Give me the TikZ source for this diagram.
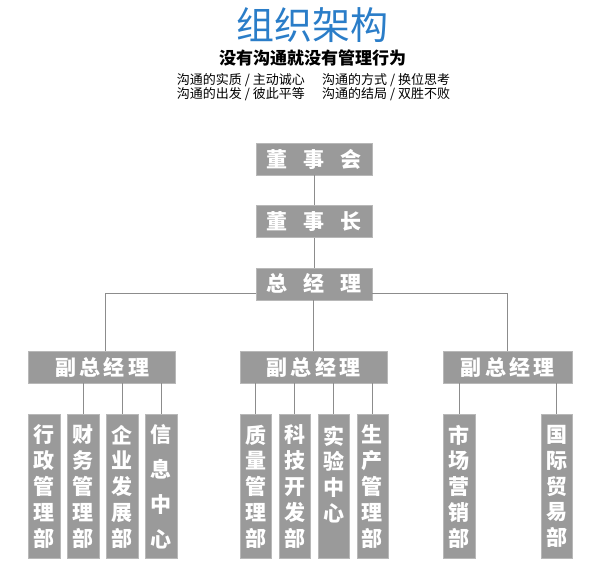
\documentclass[tikz,border=0pt]{standalone}
\usepackage{fontspec}
\usepackage{tikz}
\usetikzlibrary{positioning, calc}
\setmainfont{Noto Sans CJK SC}
\newfontfamily\cjk{Noto Sans CJK SC}
\definecolor{boxgray}{HTML}{9A9A9A}
\definecolor{boxrim}{HTML}{B8B8B8}
\definecolor{linegray}{HTML}{8C8C8C}
\definecolor{titleblue}{HTML}{2A7DC8}
\newcommand{\wide}{\hspace{16pt}}
\newcommand{\narrow}{\hspace{3.3pt}}
\tikzset{%
	head/.style={draw=boxrim, fill=boxgray, text=white, inner sep=0pt,%
		minimum width=116pt, minimum height=32pt, font=\cjk\bfseries\fontsize{21}{21}\selectfont},
	vice/.style={head, minimum width=147pt},
	dept/.style={draw=boxrim, fill=boxgray, text=white, inner sep=0pt, align=center,%
		minimum width=31.5pt, minimum height=144pt, font=\cjk\bfseries\fontsize{21}{25.8}\selectfont},
	link/.style={draw=linegray, line width=0.9pt},
	motto/.style={inner sep=0pt, font=\cjk\fontsize{13}{13}\selectfont}
}
\begin{document}
\begin{tikzpicture}[x=1pt, y=1pt, node distance=30pt and 7pt]
	\useasboundingbox (0,0) rectangle (600,581);
	\node[text=titleblue, font=\cjk\fontsize{38}{38}\selectfont] (title) at (312,556) {组织架构};
	\node[font=\cjk\bfseries\fontsize{17}{17}\selectfont] (slogan) at (312.5,523.5) {没有沟通就没有管理行为};
	\node[motto, anchor=east] (m1) at (305,501) {沟通的实质 / 主动诚心};
	\node[motto, anchor=west] (m2) at (322,501) {沟通的方式 / 换位思考};
	\node[motto, anchor=east] (m3) at (305,487) {沟通的出发 / 彼此平等};
	\node[motto, anchor=west] (m4) at (322,487) {沟通的结局 / 双胜不败};

	\node[head] (dsh) at (314,422) {董\wide 事\wide 会};
	\node[head] (dsz) [below=of dsh] {董\wide 事\wide 长};
	\node[head] (zjl) [below=of dsz] {总\wide 经\wide 理};
	\node[vice, xshift=-0.5pt] (gm2) [below=51pt of zjl] {副\narrow 总\narrow 经\narrow 理};
	\node[vice] (gm1) [left=64pt of gm2] {副\narrow 总\narrow 经\narrow 理};
	\node[vice, minimum width=129pt] (gm3) [right=56pt of gm2] {副\narrow 总\narrow 经\narrow 理};

	\node[dept, below=31pt of gm1.south west, anchor=north west] (xz) {行\\政\\管\\理\\部};
	\node[dept] (cw) [right=of xz] {财\\务\\管\\理\\部};
	\node[dept] (qy) [right=of cw] {企\\业\\发\\展\\部};
	\node[dept] (xx) [right=of qy] {信\\[9pt]息\\[9pt]中\\[9pt]心};
	\node[dept, below=31pt of gm2.south west, anchor=north west] (zl) {质\\量\\管\\理\\部};
	\node[dept] (kj) [right=of zl] {科\\技\\开\\发\\部};
	\node[dept] (sy) [right=of kj] {实\\验\\中\\心\\\mbox{}};
	\node[dept] (sc) [right=of sy] {生\\产\\管\\理\\部};
	\node[dept, below=31pt of gm3.south west, anchor=north west] (yx) {市\\场\\营\\销\\部};
	\node[dept, below=31pt of gm3.south east, anchor=north east] (gj) {国\\际\\贸\\易\\部};

	\coordinate (busl) at ($(zjl.south west)+(0,7)$);
	\coordinate (busr) at ($(zjl.south east)+(0,7)$);

	\draw[link] (dsh) -- (dsz);
	\draw[link] (dsz) -- (zjl);
	\draw[link] (zjl.south -| gm2.north) -- (gm2.north);
	\draw[link] (busl) -| ($(gm1.north)+(3,0)$);
	\draw[link] (busr) -| (gm3.north);
	\foreach \d in {cw, qy, xx, zl, kj, sy, sc, yx, gj}
		\draw[link] (\d.north |- gm1.south) -- (\d.north);
\end{tikzpicture}
\end{document}
